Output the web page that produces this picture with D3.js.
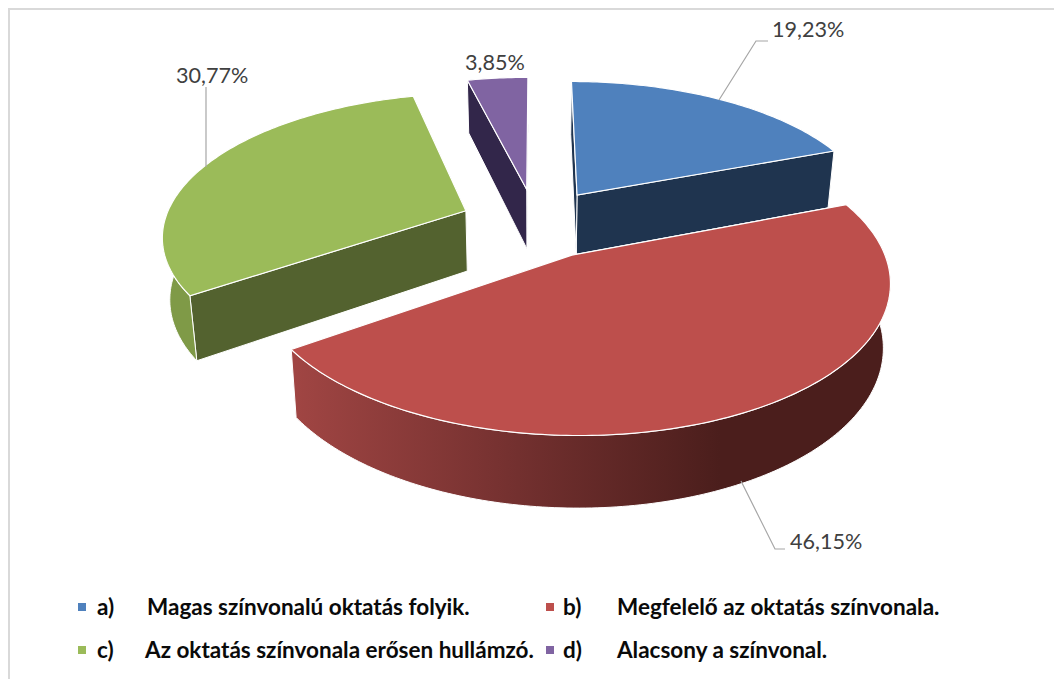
<!DOCTYPE html>
<html>
<head>
<meta charset="utf-8">
<script src="https://cdnjs.cloudflare.com/ajax/libs/d3/7.8.5/d3.min.js"></script>
<style>
body { margin: 0; background: #fff; }
svg { display: block; }
.lbl { font-family: Lato, "Open Sans", sans-serif; font-size: 21.6px; fill: #404040; }
.leg { font-family: Lato, "Open Sans", sans-serif; font-size: 22.5px; font-weight: 700; fill: #0a0a0a; }
</style>
</head>
<body>
<div id="chart"></div>
<script>
var letters = ["a)", "b)", "c)", "d)"];
var categories = ["Magas színvonalú oktatás folyik.", "Megfelelő az oktatás színvonala.", "Az oktatás színvonala erősen hullámzó.", "Alacsony a színvonal."];
var values = [19.23, 46.15, 30.77, 3.85];
var valueLabels = ["19,23%", "46,15%", "30,77%", "3,85%"];
var topColors = ["#4f81bd", "#bd4f4c", "#9bbb59", "#8064a2"];
var wallColors = ["#1f344f", "#4b1e1c", "#53622f", "#32264a"];
var outerColors = ["#1f344f", "url(#redWall)", "#7f9a47", "#32264a"];

var width = 1054, height = 679;

var svg = d3.select("#chart").append("svg")
    .attr("width", width)
    .attr("height", height);

// frame, only left and top are visible in the picture
svg.append("path")
    .attr("d", "M9,679V9H1054")
    .attr("fill", "none")
    .attr("stroke", "#d9d9d9")
    .attr("stroke-width", 2);

var defs = svg.append("defs");
var grad = defs.append("linearGradient")
    .attr("id", "redWall")
    .attr("gradientUnits", "userSpaceOnUse")
    .attr("x1", 295).attr("x2", 720).attr("y1", 0).attr("y2", 0);
grad.append("stop").attr("offset", "0").attr("stop-color", "#a04543");
grad.append("stop").attr("offset", "0.5").attr("stop-color", "#753130");
grad.append("stop").attr("offset", "1").attr("stop-color", "#4b1e1c");

// pie plane -> screen, simple perspective
var cx = 535.5, cy = 223, rx = 302, ry = 140, persp = 0.16, depth = 61, explode = 0.25;

function project(u, v, low) {
    var s = 1 / (1 + persp * v);
    var k = low ? 0.98 : 1;
    return [cx + rx * u * s * k, cy - ry * v * s + (low ? depth * Math.pow(s, 0.8) : 0)];
}

var pie = d3.pie().sort(null);
var arcs = pie(values);
var line = d3.line();

function rimPoint(d, a, low) {
    var mid = (d.startAngle + d.endAngle) / 2;
    return project(explode * Math.sin(mid) + Math.sin(a), explode * Math.cos(mid) + Math.cos(a), low);
}
function apexPoint(d, low) {
    var mid = (d.startAngle + d.endAngle) / 2;
    return project(explode * Math.sin(mid), explode * Math.cos(mid), low);
}
function rim(d, low, a0, a1) {
    var n = Math.max(8, Math.round((a1 - a0) * 60));
    return d3.range(n + 1).map(function(i) {
        return rimPoint(d, a0 + (a1 - a0) * i / n, low);
    });
}

// back slices first
var drawOrder = [3, 0, 2, 1];
// only this part of the rim faces the viewer
var frontFrom = 85 * Math.PI / 180, frontTo = 275 * Math.PI / 180;
drawOrder.forEach(function(i) {
    var d = arcs[i];
    var g = svg.append("g");
    var wall = function(a) {
        return line([apexPoint(d, false), rimPoint(d, a, false), rimPoint(d, a, true), apexPoint(d, true)]) + "Z";
    };
    [d.endAngle, d.startAngle].forEach(function(a) {
        g.append("path").attr("d", wall(a)).attr("fill", wallColors[i])
            .attr("stroke", "#fff").attr("stroke-width", 1);
    });
    var a0 = Math.max(d.startAngle, frontFrom), a1 = Math.min(d.endAngle, frontTo);
    if (a1 > a0) {
        g.append("path")
            .attr("d", line(rim(d, false, a0, a1).concat(rim(d, true, a0, a1).reverse())) + "Z")
            .attr("fill", outerColors[i])
            .attr("stroke", "#fff").attr("stroke-width", 1);
    }
    g.append("path")
        .attr("d", line([apexPoint(d, false)].concat(rim(d, false, d.startAngle, d.endAngle))) + "Z")
        .attr("fill", topColors[i])
        .attr("stroke", "#fff").attr("stroke-width", 1.2);
});

// leader lines
var leaders = [
    [[719, 100], [756, 41], [768, 41]],
    [[741, 481], [775, 549], [785, 549]],
    [[206, 167], [206, 87]]
];
leaders.forEach(function(p) {
    svg.append("path").attr("d", line(p)).attr("fill", "none")
        .attr("stroke", "#a6a6a6").attr("stroke-width", 1.2);
});

// value labels
var labelX = [772, 790, 176, 465];
var labelY = [37, 549, 83, 70];
valueLabels.forEach(function(t, i) {
    svg.append("text").attr("class", "lbl").attr("x", labelX[i]).attr("y", labelY[i]).text(t);
});

// legend
var markX = [78, 546, 78, 546];
var letterX = [97, 563, 97, 563];
var textX = [147, 617, 145, 617];
var rowY = [615, 615, 658, 658];
categories.forEach(function(t, i) {
    svg.append("rect").attr("x", markX[i]).attr("y", rowY[i] - 12).attr("width", 8).attr("height", 8).attr("fill", topColors[i]);
    svg.append("text").attr("class", "leg").attr("x", letterX[i]).attr("y", rowY[i]).text(letters[i]);
    svg.append("text").attr("class", "leg").attr("x", textX[i]).attr("y", rowY[i]).text(t);
});
</script>
</body>
</html>
